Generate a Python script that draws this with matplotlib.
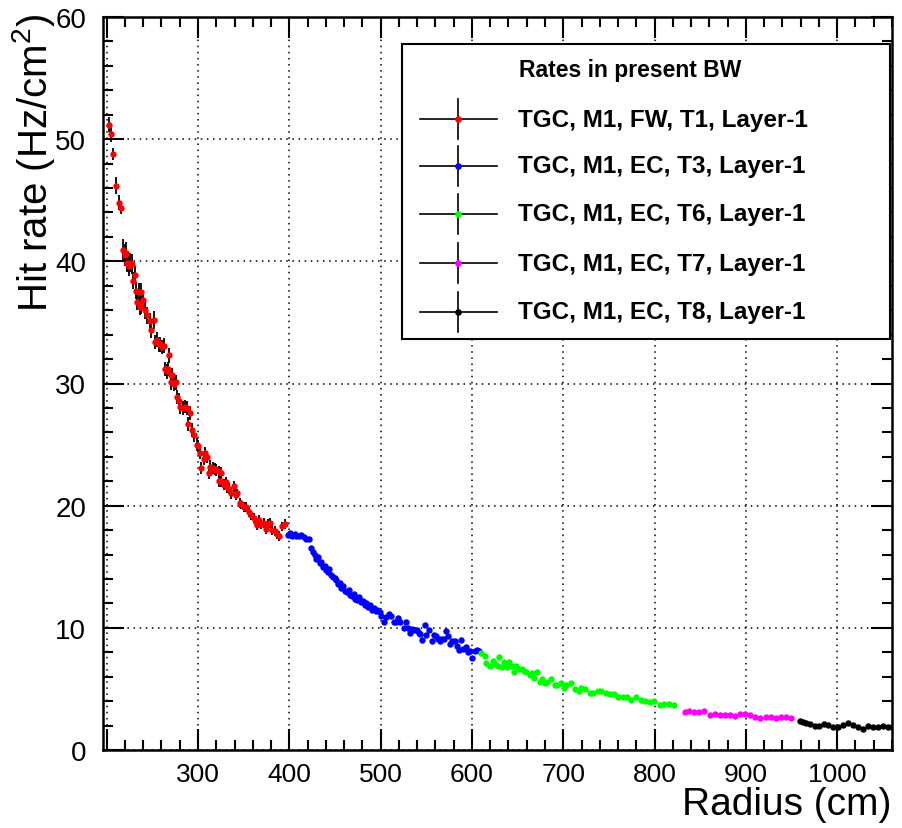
import matplotlib
matplotlib.use("Agg")
import matplotlib.pyplot as plt
from matplotlib.lines import Line2D
from matplotlib.patches import Rectangle
from matplotlib.ticker import MultipleLocator, FuncFormatter

plt.rcParams['font.family'] = ['Liberation Sans', 'DejaVu Sans']
plt.rcParams['mathtext.fontset'] = 'custom'
plt.rcParams['mathtext.rm'] = 'Liberation Sans'
plt.rcParams['mathtext.it'] = 'Liberation Sans:italic'
plt.rcParams['mathtext.bf'] = 'Liberation Sans:bold'

# TGC, M1, FW, T1 (red, with errors)
t1_r = [202.6, 204.8, 207.4, 210.7, 213.5, 216.1, 217.9, 220.1, 221.2, 222.7,
        224.5, 226.0, 227.7, 228.8, 230.7, 231.8, 233.7, 235.4, 236.2, 237.6,
        238.0, 240.0, 242.0, 244.0, 247.1, 249.0, 251.5, 252.6, 255.1, 257.3,
        258.8, 261.0, 262.4, 263.5, 266.1, 267.6, 268.7, 270.4, 271.0, 272.0,
        273.4, 276.0, 277.0, 279.2, 280.7, 283.6, 285.4, 288.0, 289.5, 290.9,
        293.1, 296.1, 298.9, 300.4, 301.9, 303.7, 306.2, 307.5, 309.5, 312.0,
        313.0, 316.4, 318.3, 320.1, 322.7, 323.0, 324.9, 325.6, 328.1, 330.3,
        331.7, 333.9, 336.6, 339.1, 341.3, 342.7, 345.7, 347.5, 350.0, 353.0,
        355.8, 357.7, 361.0, 363.2, 364.6, 366.8, 369.4, 371.9, 374.1, 376.6,
        378.5, 381.5, 384.0, 386.5, 388.7, 392.4, 394.9]
t1_rate = [51.2, 50.4, 48.8, 46.2, 44.8, 44.4, 40.9, 40.5, 40.7, 39.9,
           39.6, 39.9, 39.8, 38.4, 38.9, 37.6, 36.7, 37.5, 36.3, 36.4,
           37.5, 36.8, 36.0, 35.6, 35.1, 34.4, 35.2, 33.4, 33.6, 33.2,
           33.2, 33.0, 33.1, 31.2, 31.0, 31.2, 32.3, 30.1, 30.7, 30.7,
           30.0, 30.1, 28.9, 28.6, 28.1, 28.0, 28.1, 28.0, 26.7, 27.6,
           26.2, 25.8, 25.0, 24.9, 24.3, 23.1, 23.8, 24.3, 24.0, 22.7,
           23.2, 23.1, 23.0, 22.9, 22.8, 22.0, 22.7, 22.0, 21.7, 21.9,
           21.5, 21.4, 21.0, 21.6, 20.9, 21.0, 20.2, 20.1, 19.9, 19.9,
           19.5, 19.2, 19.0, 18.7, 18.4, 18.8, 18.5, 18.6, 18.1, 18.5,
           18.6, 18.0, 17.9, 17.7, 17.5, 18.3, 18.5]
t1_err = [0.6, 0.6, 0.5, 0.7, 0.6, 0.5, 0.9, 0.9, 0.9, 0.8,
          0.8, 0.8, 0.8, 0.7, 0.7, 0.7, 0.7, 0.7, 0.7, 0.7,
          0.7, 0.7, 0.7, 0.7, 0.7, 0.7, 0.7, 0.6, 0.6, 0.6,
          0.6, 0.6, 0.6, 0.6, 0.6, 0.6, 0.6, 0.6, 0.6, 0.6,
          0.6, 0.6, 0.6, 0.6, 0.6, 0.55, 0.55, 0.55, 0.55, 0.55,
          0.55, 0.55, 0.5, 0.5, 0.5, 0.5, 0.5, 0.5, 0.5, 0.5,
          0.5, 0.5, 0.5, 0.5, 0.45, 0.45, 0.45, 0.45, 0.45, 0.45,
          0.45, 0.45, 0.45, 0.45, 0.45, 0.4, 0.4, 0.4, 0.4, 0.4,
          0.4, 0.4, 0.4, 0.4, 0.4, 0.4, 0.4, 0.4, 0.4, 0.4,
          0.4, 0.4, 0.4, 0.4, 0.4, 0.4, 0.4]

# TGC, M1, EC, T3 (blue)
t3_r = [398.5, 400.4, 403.3, 405.9, 407.7, 410.6, 413.2, 415.7, 418.7, 421.5,
        424.1, 426.0, 427.8, 429.5, 431.0, 433.2, 435.0, 436.8, 438.7, 440.5,
        442.3, 444.0, 446.0, 447.8, 449.7, 451.5, 453.3, 455.1, 457.0, 459.0,
        461.0, 463.0, 465.0, 466.8, 468.5, 470.5, 472.5, 474.5, 476.5, 478.5,
        480.5, 482.5, 484.5, 486.5, 488.5, 490.5, 492.5, 494.5, 496.5, 498.9,
        500.8, 503.3, 506.3, 509.1, 511.7, 514.3, 516.4, 519.4, 521.6, 525.2,
        527.4, 529.9, 532.5, 534.7, 537.2, 539.8, 541.9, 543.5, 545.7, 548.2,
        550.0, 552.9, 555.9, 558.0, 560.2, 562.8, 564.6, 566.5, 569.0, 571.2,
        573.7, 575.6, 578.5, 581.0, 583.6, 585.7, 588.4, 590.1, 593.1, 595.6,
        598.2, 600.4, 603.0, 605.5, 607.6]
t3_rate = [17.6, 17.8, 17.5, 17.7, 17.5, 17.5, 17.6, 17.4, 17.3, 17.3,
           16.5, 16.2, 16.0, 15.6, 15.8, 15.3, 15.4, 15.0, 15.1, 14.7,
           14.6, 14.8, 14.3, 14.2, 14.1, 13.9, 13.6, 13.7, 13.3, 13.4,
           13.0, 12.9, 13.1, 12.7, 12.6, 12.8, 12.4, 12.3, 12.5, 12.1,
           12.2, 11.9, 12.0, 11.7, 11.9, 11.5, 11.6, 11.4, 11.5, 11.3,
           11.0, 10.5, 10.9, 11.1, 11.0, 10.5, 10.5, 10.8, 10.5, 10.0,
           10.5, 10.0, 9.6, 9.9, 9.8, 9.8, 9.6, 9.5, 9.0, 10.2,
           9.4, 9.8, 8.9, 9.4, 9.3, 9.1, 8.9, 9.1, 9.1, 9.7,
           9.3, 8.7, 8.9, 8.9, 8.5, 8.2, 9.0, 8.3, 8.4, 8.0,
           8.1, 7.5, 8.1, 8.2, 8.1]

# TGC, M1, EC, T6 (green)
t6_r = [610.3, 613.9, 615.7, 620.1, 623.0, 625.2, 628.4, 629.5, 632.8, 635.4,
        638.3, 640.5, 643.5, 645.6, 648.6, 651.4, 654.4, 656.9, 659.5, 663.2,
        665.7, 667.9, 671.1, 674.1, 676.6, 679.6, 682.5, 686.9, 690.5, 693.5,
        697.8, 700.7, 703.3, 708.0, 712.4, 716.8, 719.7, 723.4, 728.8, 732.5,
        737.9, 741.6, 746.3, 751.0, 755.8, 760.5, 765.2, 770.0, 774.7, 779.9,
        784.9, 789.8, 794.8, 799.9, 805.4, 810.6, 816.0, 821.5]
t6_rate = [7.9, 7.7, 7.1, 6.9, 7.3, 7.0, 6.9, 7.6, 6.8, 7.2,
           6.8, 7.2, 6.9, 6.4, 6.9, 6.6, 6.6, 6.5, 6.4, 6.1,
           6.3, 5.9, 6.4, 5.6, 5.8, 5.5, 5.6, 5.8, 5.3, 5.3,
           5.5, 5.1, 5.3, 5.5, 5.0, 4.8, 5.1, 5.0, 4.7, 4.7,
           4.8, 4.8, 4.7, 4.6, 4.6, 4.3, 4.3, 4.3, 4.1, 4.3,
           4.1, 4.0, 3.9, 4.0, 3.7, 3.8, 3.8, 3.7]

# TGC, M1, EC, T7 (magenta)
t7_r = [832.8, 837.6, 843.0, 848.5, 854.4, 860.2, 865.7, 871.2, 877.0, 882.4,
        887.9, 893.4, 898.9, 904.8, 910.2, 916.0, 921.5, 927.0, 932.5, 938.0,
        943.4, 948.9]
t7_rate = [3.13, 3.22, 3.08, 3.08, 3.19, 2.84, 2.95, 2.86, 2.89, 2.89,
           2.78, 2.92, 2.92, 2.84, 2.72, 2.62, 2.70, 2.67, 2.62, 2.67,
           2.70, 2.62]

# TGC, M1, EC, T8 (black)
t8_r = [959.8, 963.0, 966.0, 969.7, 975.2, 979.9, 985.3, 990.2, 995.2, 1000.7,
        1006.2, 1011.6, 1017.1, 1022.6, 1028.0, 1033.5, 1039.0, 1044.5, 1050.0,
        1055.4, 1060.0]
t8_rate = [2.35, 2.27, 2.21, 2.10, 1.94, 1.94, 2.13, 2.05, 1.91, 1.86,
           2.02, 2.18, 2.05, 1.86, 1.69, 1.94, 1.91, 1.91, 1.94, 1.91, 1.88]

series = [
    (t1_r, t1_rate, '#ff0000', 'TGC, M1, FW, T1, Layer-1'),
    (t3_r, t3_rate, '#0000ff', 'TGC, M1, EC, T3, Layer-1'),
    (t6_r, t6_rate, '#00ff00', 'TGC, M1, EC, T6, Layer-1'),
    (t7_r, t7_rate, '#ff00ff', 'TGC, M1, EC, T7, Layer-1'),
    (t8_r, t8_rate, '#000000', 'TGC, M1, EC, T8, Layer-1'),
]

W, H = 903, 829
fig = plt.figure(figsize=(W / 100, H / 100), dpi=100)
ax = fig.add_axes([103 / W, 1 - 751 / H, (892 - 103) / W, (751 - 18) / H])


def fx(px):
    return px / W


def fy(py):
    return 1 - py / H


ax.errorbar(t1_r, t1_rate, yerr=t1_err, fmt='none', ecolor='black',
            elinewidth=1.3, zorder=2)
for xs, ys, col, lab in series:
    ax.plot(xs, ys, 'o', color=col, ms=4.6, mew=0, zorder=3)

ax.set_xlim(196, 1060)
ax.set_ylim(0, 60)
ax.xaxis.set_major_locator(MultipleLocator(100))
ax.xaxis.set_minor_locator(MultipleLocator(20))
ax.xaxis.set_major_formatter(FuncFormatter(lambda v, p: '' if v < 250 else '%d' % v))
ax.yaxis.set_major_locator(MultipleLocator(10))
ax.yaxis.set_minor_locator(MultipleLocator(2))
ax.tick_params(which='both', direction='in', top=True, right=True, width=1.5)
ax.tick_params(which='major', length=15)
ax.tick_params(which='minor', length=7.5)
ax.tick_params(axis='x', pad=9, labelsize=19)
ax.tick_params(axis='y', pad=12, labelsize=20)
for sp in ax.spines.values():
    sp.set_linewidth(1.8)
ax.grid(True, which='major', color='black', linestyle=(0, (1, 3)), linewidth=1.1)

fig.text(fx(47), fy(14), r'Hit rate (Hz/cm$^{2}$)', rotation=90,
         rotation_mode='anchor', ha='right', va='baseline', fontsize=29)
fig.text(fx(891), fy(805), 'Radius (cm)', ha='right', va='center', fontsize=28)

# legend box
fig.add_artist(Rectangle((fx(402), fy(340)), (890 - 402) / W, (340 - 45) / H,
                         transform=fig.transFigure, facecolor='white',
                         edgecolor='black', linewidth=1.5, zorder=5))
fig.text(fx(519), fy(70), 'Rates in present BW', ha='left', va='center',
         fontsize=16.5, fontweight='bold', zorder=6)
entry_y = [120, 167, 215, 264, 313]
for (xs, ys, col, lab), py in zip(series, entry_y):
    fig.add_artist(Line2D([fx(420), fx(497)], [fy(py), fy(py)], color='black',
                          lw=1.2, transform=fig.transFigure, zorder=6))
    fig.add_artist(Line2D([fx(458), fx(458)], [fy(py - 20), fy(py + 20)],
                          color='black', lw=1.2, transform=fig.transFigure, zorder=6))
    fig.add_artist(Line2D([fx(458)], [fy(py)], marker='o', ms=4.8, mew=0, color=col,
                          transform=fig.transFigure, zorder=7))
    fig.text(fx(518), fy(py), lab, ha='left', va='center', fontsize=17.5,
             fontweight='bold', zorder=6)

fig.savefig('out.png', dpi=100)
